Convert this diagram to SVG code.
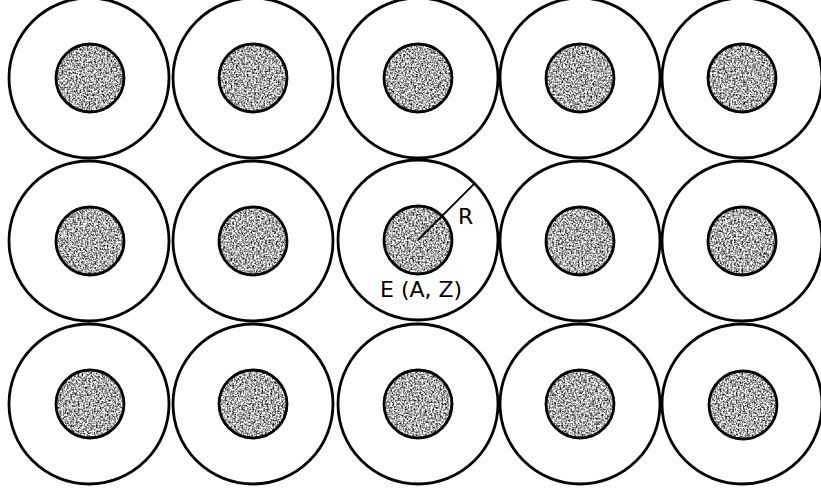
<svg xmlns="http://www.w3.org/2000/svg" width="821" height="496" viewBox="0 0 821 496">
<style>
.ring{fill:#fff;stroke:#000;stroke-width:2.8}
.core{fill:#aaa;filter:url(#speckle)}
.coreEdge{fill:none;stroke:#000;stroke-width:2.8}
.lbl{font-family:"DejaVu Sans",sans-serif;font-size:22px;fill:#000}
.radius{stroke:#000;stroke-width:1.8;fill:none}
</style>
<defs>
<filter id="speckle" x="0" y="0" width="1" height="1" filterUnits="objectBoundingBox" color-interpolation-filters="sRGB">
<feTurbulence type="fractalNoise" baseFrequency="0.55" numOctaves="3" seed="3" result="n"/>
<feColorMatrix in="n" type="matrix" values="2.0 0 0 0 -0.32  2.0 0 0 0 -0.32  2.0 0 0 0 -0.32  0 0 0 0 1" result="g"/>
<feGaussianBlur in="g" stdDeviation="0.45" result="b"/>
<feComposite in="b" in2="SourceAlpha" operator="in"/>
</filter>
</defs>
<rect width="821" height="496" fill="#fff"/>
<g id="cell-1-1"><circle class="ring" cx="89" cy="78" r="80"/><circle class="core" cx="90" cy="78" r="34"/><circle class="coreEdge" cx="90" cy="78" r="34"/></g>
<g id="cell-1-2"><circle class="ring" cx="253" cy="78" r="80"/><circle class="core" cx="253" cy="78" r="34"/><circle class="coreEdge" cx="253" cy="78" r="34"/></g>
<g id="cell-1-3"><circle class="ring" cx="418" cy="78" r="80"/><circle class="core" cx="418" cy="78" r="34"/><circle class="coreEdge" cx="418" cy="78" r="34"/></g>
<g id="cell-1-4"><circle class="ring" cx="580" cy="78" r="80"/><circle class="core" cx="580" cy="78" r="34"/><circle class="coreEdge" cx="580" cy="78" r="34"/></g>
<g id="cell-1-5"><circle class="ring" cx="742" cy="78" r="80"/><circle class="core" cx="742" cy="78" r="34"/><circle class="coreEdge" cx="742" cy="78" r="34"/></g>
<g id="cell-2-1"><circle class="ring" cx="89" cy="241" r="80"/><circle class="core" cx="90" cy="241" r="34"/><circle class="coreEdge" cx="90" cy="241" r="34"/></g>
<g id="cell-2-2"><circle class="ring" cx="253" cy="241" r="80"/><circle class="core" cx="253" cy="241" r="34"/><circle class="coreEdge" cx="253" cy="241" r="34"/></g>
<g id="cell-2-3"><circle class="ring" cx="418" cy="240" r="80"/><circle class="core" cx="418" cy="240" r="34"/><circle class="coreEdge" cx="418" cy="240" r="34"/>
<text class="lbl" x="458" y="224">R</text><text class="lbl" x="380" y="297">E (A, Z)</text></g>
<g id="cell-2-4"><circle class="ring" cx="580" cy="241" r="80"/><circle class="core" cx="580" cy="241" r="34"/><circle class="coreEdge" cx="580" cy="241" r="34"/></g>
<g id="cell-2-5"><circle class="ring" cx="742" cy="241" r="80"/><circle class="core" cx="742" cy="241" r="34"/><circle class="coreEdge" cx="742" cy="241" r="34"/></g>
<g id="cell-3-1"><circle class="ring" cx="89" cy="404" r="80"/><circle class="core" cx="90" cy="404" r="34"/><circle class="coreEdge" cx="90" cy="404" r="34"/></g>
<g id="cell-3-2"><circle class="ring" cx="253" cy="404" r="80"/><circle class="core" cx="253" cy="404" r="34"/><circle class="coreEdge" cx="253" cy="404" r="34"/></g>
<g id="cell-3-3"><circle class="ring" cx="418" cy="404" r="80"/><circle class="core" cx="418" cy="404" r="34"/><circle class="coreEdge" cx="418" cy="404" r="34"/></g>
<g id="cell-3-4"><circle class="ring" cx="580" cy="404" r="80"/><circle class="core" cx="580" cy="404" r="34"/><circle class="coreEdge" cx="580" cy="404" r="34"/></g>
<g id="cell-3-5"><circle class="ring" cx="742" cy="404" r="80"/><circle class="core" cx="743" cy="405" r="34"/><circle class="coreEdge" cx="743" cy="405" r="34"/></g>
<g id="connectors"><line class="radius" x1="418" y1="240" x2="474.6" y2="183.4"/></g>
</svg>
